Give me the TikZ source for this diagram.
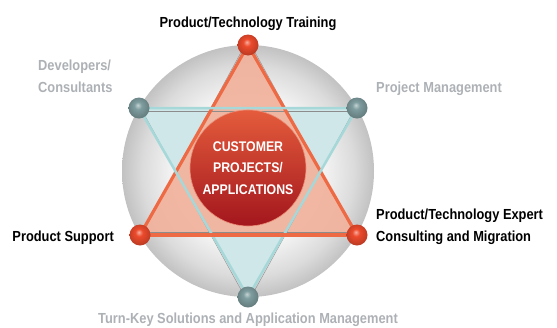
\documentclass[tikz,border=0pt]{standalone}
\usepackage{fontspec}
\setmainfont{Liberation Sans}[FakeStretch=0.88]
\usetikzlibrary{shadings}
\definecolor{redfill}{HTML}{F2B29C}
\definecolor{rededge}{HTML}{EE6A45}
\definecolor{bluefill}{HTML}{CFE7E8}
\definecolor{blueedge}{HTML}{A6D8D9}
\definecolor{graytxt}{HTML}{ADB1B5}
\definecolor{coreTop}{HTML}{E45C3C}
\definecolor{coreBot}{HTML}{A3161D}
\definecolor{redball}{HTML}{EC4A2C}
\definecolor{grayball}{HTML}{7E9C9E}
\pgfdeclareradialshading{spheresh}{\pgfpoint{0bp}{0bp}}{color(0bp)=(white); color(14bp)=(white!97!black); color(21bp)=(white!86!black); color(25bp)=(white!76!black); color(50bp)=(white!76!black)}
\pgfdeclareradialshading{redballsh}{\pgfpoint{-3bp}{7bp}}{color(0bp)=(redball!45!white); color(9bp)=(redball); color(20bp)=(redball!88!black); color(28bp)=(redball!78!black); color(50bp)=(redball!78!black)}
\pgfdeclareradialshading{grayballsh}{\pgfpoint{-3bp}{7bp}}{color(0bp)=(grayball!45!white); color(9bp)=(grayball); color(20bp)=(grayball!88!black); color(28bp)=(grayball!78!black); color(50bp)=(grayball!78!black)}
\tikzset{
  lbl/.style={font=\bfseries\fontsize{14.6}{21.5}\selectfont, inner sep=0pt, text=black},
  glbl/.style={lbl, text=graytxt},
  rball/.style={circle, minimum size=21pt, inner sep=0pt, shading=redballsh},
  gball/.style={circle, minimum size=21pt, inner sep=0pt, shading=grayballsh},
  wire/.style={draw=black!45, line width=0.4pt},
}
\begin{document}
\begin{tikzpicture}[x=1pt,y=-1pt]
\path[use as bounding box] (0,0) rectangle (557,327);
% sphere
\node[circle, minimum size=252pt, inner sep=0pt, shading=spheresh] (sphere) at (248,171) {};
% ball positions
\coordinate (pT) at (248,45);
\coordinate (pL) at (140,235);
\coordinate (pR) at (357,235);
\coordinate (gL) at (139,108);
\coordinate (gR) at (357,108);
\coordinate (gB) at (248,297);
% fills
\fill[bluefill] (gL) -- (gR) -- (gB) -- cycle;
\fill[redfill, fill opacity=0.92] (pT) -- (pL) -- (pR) -- cycle;
% thin wires
\draw[wire] ([xshift=-3pt]pT) -- ([yshift=-3pt]pL);
\draw[wire] ([xshift=3pt]pT) -- ([yshift=-3pt]pR);
\draw[wire] ([yshift=3pt]pL) -- ([yshift=3pt]pR);
\draw[wire] ([yshift=-3pt]gL) -- ([yshift=-3pt]gR);
\draw[wire] ([yshift=3pt]gL) -- ([xshift=-3pt]gB);
\draw[wire] ([yshift=3pt]gR) -- ([xshift=3pt]gB);
% edges
\draw[rededge, line width=3.2pt, line join=round] (pT) -- (pL) -- (pR) -- cycle;
\draw[blueedge, line width=2.5pt, line join=round] (gL) -- (gR) -- (gB) -- cycle;
\draw[rededge, line width=3.2pt] (pL) -- (pR);
% core
\node[circle, minimum size=116pt, inner sep=0pt, top color=coreTop, bottom color=coreBot, draw=coreTop!70!white, line width=0.6pt,
  text=white, font=\bfseries\fontsize{14}{21.5}\selectfont, align=center] (core) at (248,168) {CUSTOMER\\PROJECTS/\\APPLICATIONS};
% balls
\node[rball] (bT) at (pT) {};
\node[rball] (bL) at (pL) {};
\node[rball] (bR) at (pR) {};
\node[gball] (bGL) at (gL) {};
\node[gball] (bGR) at (gR) {};
\node[gball] (bGB) at (gB) {};
% labels
\node[lbl, anchor=base] (tTrain) at (248,27) {Product/Technology Training};
\node[glbl, anchor=base west, align=left] (tDev) at (38,92) {Developers/\\Consultants};
\node[glbl, anchor=base west] (tPM) at (376,92) {Project Management};
\node[lbl, anchor=base east] (tSup) at (114,241) {Product Support};
\node[lbl, anchor=base west, align=left] (tExp) at (376,241) {Product/Technology Expert\\Consulting and Migration};
\node[glbl, anchor=base] (tTK) at (248,323) {Turn-Key Solutions and Application Management};
\end{tikzpicture}
\end{document}
